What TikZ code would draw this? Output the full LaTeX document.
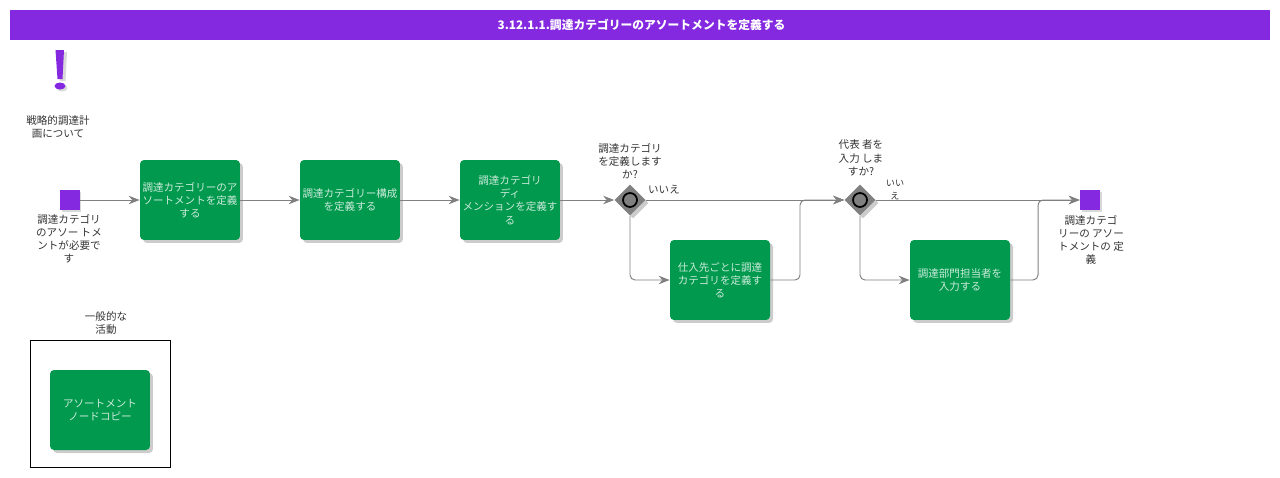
\documentclass[tikz,border=0pt]{standalone}
\usepackage{fontspec}
\setmainfont{Noto Sans CJK JP}
\usepackage{tikz}
\usetikzlibrary{positioning, shapes.geometric, arrows.meta, shadows}
\definecolor{titlepurple}{HTML}{8529E1}
\definecolor{taskgreen}{HTML}{00994D}
\definecolor{flowgray}{HTML}{808080}
\tikzset{
  softshadow/.style={drop shadow={shadow xshift=0.06cm, shadow yshift=-0.06cm, fill=black, opacity=0.2}},
  taskbox/.style={rectangle, fill=taskgreen, rounded corners=0.08cm, minimum width=2cm, minimum height=1.6cm, inner sep=0pt, align=center, text=white!80!taskgreen, softshadow, font=\fontsize{6}{7.5}\selectfont},
  eventbox/.style={rectangle, fill=titlepurple, minimum size=0.4cm, inner sep=0pt, drop shadow={shadow xshift=0.03cm, shadow yshift=-0.03cm, fill=black, opacity=0.15}},
  gateway/.style={diamond, fill=flowgray, aspect=1, minimum size=0.62cm, inner sep=0pt, softshadow},
  gatering/.style={circle, draw=black, fill=flowgray, line width=1pt, minimum size=0.28cm, inner sep=0pt},
  caption/.style={align=center, inner sep=0pt, text=black!80, font=\fontsize{6}{7.5}\selectfont},
  flow/.style={draw=flowgray, line width=0.55pt, rounded corners=0.1cm, -{Stealth[length=0.22cm, width=0.17cm]}},
}

\begin{document}
\begin{tikzpicture}[x=0.02cm, y=-0.02cm]
  \useasboundingbox (0,0) rectangle (1280,477);

  % Title bar
  \node[rectangle, fill=titlepurple, minimum width=25.2cm, minimum height=0.6cm, inner sep=0pt] (titleBar) at (640,25) {};
  \node[inner sep=0pt, text=white, font=\fontsize{6.7}{8}\selectfont\bfseries] (titleText) at (641.5,25) {3.12.1.1.調達カテゴリーのアソートメントを定義する};

  % Exclamation mark
  \fill[black, opacity=0.15] (58,52) -- (67,52) -- (65.5,81) -- (60,81) -- cycle;
  \fill[black, opacity=0.15] (62,88) ellipse (5.5 and 3.5);
  \fill[titlepurple] (55.5,50) -- (64,50) -- (62.5,79) -- (57.5,79) -- cycle;
  \fill[titlepurple] (60,86) ellipse (5.5 and 3.5);
  \node[caption] (noteLabel) at (58,127) {戦略的調達計\\画について};

  % Start and tasks
  \node[eventbox] (startEvent) at (70,200) {};
  \node[caption] (startLabel) at (69,239) {調達カテゴリ\\のアソー トメ\\ントが必要で\\す};
  \node[taskbox] (assortTask) at (190,200) {調達カテゴリーのア\\ソートメントを定義\\する};
  \node[taskbox] (structTask) at (350,200) {調達カテゴリー構成\\を定義する};
  \node[taskbox] (dimTask) at (510,200) {調達カテゴリ\\ディ\\メンションを定義す\\る};

  % Gateways
  \node[gateway] (defineGate) at (630,200) {};
  \node[gatering] (defineRing) at (630,200) {};
  \node[caption] (defineLabel) at (630,161) {調達カテゴリ\\を定義します\\か?};
  \node[caption] (defineNo) at (664,190) {いいえ};
  \node[gateway] (leadGate) at (860,200) {};
  \node[gatering] (leadRing) at (860,200) {};
  \node[caption] (leadLabel) at (861,158) {代表 者を\\入力 しま\\すか?};
  \node[caption, font=\fontsize{5.2}{7.5}\selectfont] (leadNo) at (895,190) {いい\\え};

  % Lower branch tasks
  \node[taskbox] (supplierTask) at (720,280) {仕入先ごとに調達\\カテゴリを定義す\\る};
  \node[taskbox] (buyerTask) at (960,280) {調達部門担当者を\\入力する};

  % End
  \node[eventbox] (endEvent) at (1090,200) {};
  \node[caption] (endLabel) at (1091,240) {調達カテゴ\\リーの アソー\\トメントの 定\\義};

  % General activities
  \node[rectangle, draw=black, line width=0.5pt, minimum width=2.8cm, minimum height=2.54cm, inner sep=0pt] (generalFrame) at (100,403.5) {};
  \node[caption] (generalLabel) at (106,323) {一般的な\\活動};
  \node[taskbox] (copyTask) at (100,410) {アソートメント\\ノードコピー};

  % Merge points
  \coordinate (mergeDefine) at (800,200);
  \coordinate (mergeLead) at (1038,200);

  % Flows
  \draw[flow] (startEvent) -- (assortTask);
  \draw[flow] (assortTask) -- (structTask);
  \draw[flow] (structTask) -- (dimTask);
  \draw[flow] (dimTask) -- (defineGate);
  \draw[flow] (defineGate) -- (leadGate);
  \draw[flow] (leadGate) -- (endEvent);
  \draw[flow] (defineGate) |- (supplierTask);
  \draw[flow] (supplierTask) -| (mergeDefine) -- (leadGate);
  \draw[flow] (leadGate) |- (buyerTask);
  \draw[flow] (buyerTask) -| (mergeLead) -- (endEvent);
\end{tikzpicture}
\end{document}
